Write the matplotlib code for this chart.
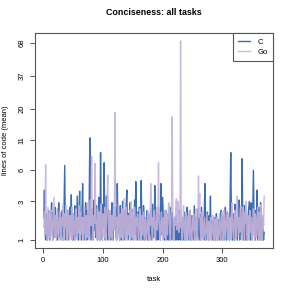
# -*- coding: utf-8 -*-
"""
Gráfica de concisión: líneas de código (media) por tarea, C frente a Go,
con eje y en escala log(1 + y) al estilo de R base.
"""

import numpy as np
import matplotlib
matplotlib.use("Agg")  # sin ventana
import matplotlib.pyplot as plt

# --- Datos -----------------------------------------------------------
tareas = np.arange(1, 371)

loc_c = [
    2.0, 3.9, 1.5, 1.0, 2.2, 1.3, 1.0, 1.8, 2.4, 1.2, 1.0, 1.6, 2.1, 2.9, 1.4, 1.0, 2.3, 1.5, 1.1, 2.6,
    1.2, 1.9, 1.0, 2.5, 1.4, 2.9, 1.1, 1.7, 2.2, 1.0, 1.5, 2.4, 1.2, 1.0, 2.8, 6.6, 1.6, 1.0, 2.0, 1.3,
    2.4, 1.1, 1.0, 1.9, 2.6, 1.3, 3.5, 1.2, 1.0, 2.2, 1.6, 1.0, 2.7, 1.4, 1.1, 2.0, 3.4, 1.5, 1.0, 2.3,
    3.8, 1.4, 2.1, 1.0, 2.6, 4.5, 1.7, 1.0, 2.3, 1.2, 2.9, 1.5, 1.0, 2.4, 1.8, 1.1, 3.0, 11.5, 2.2, 1.0,
    1.6, 2.5, 1.2, 1.0, 3.1, 1.4, 2.0, 1.1, 2.7, 1.3, 1.0, 2.2, 3.3, 1.5, 1.0, 8.6, 2.4, 1.2, 1.0, 2.8,
    1.5, 7.0, 2.0, 1.0, 1.7, 3.4, 1.3, 1.0, 2.5, 1.9, 1.1, 2.3, 1.0, 1.6, 2.9, 1.2, 1.0, 2.1, 1.4, 1.8,
    2.6, 1.1, 1.0, 4.5, 1.8, 2.2, 1.3, 1.0, 2.7, 1.5, 1.0, 2.0, 3.0, 1.2, 1.0, 2.4, 1.7, 1.1, 2.8, 3.9,
    1.4, 1.0, 2.2, 1.6, 2.9, 1.1, 1.0, 2.5, 1.3, 2.0, 1.0, 1.8, 3.1, 1.2, 4.7, 1.5, 1.0, 2.3, 1.9, 1.1,
    2.6, 1.0, 1.4, 4.8, 2.1, 1.2, 1.0, 2.7, 1.6, 1.0, 2.0, 1.3, 1.1, 2.4, 1.0, 1.7, 2.2, 1.0, 1.5, 2.5,
    1.2, 1.0, 2.8, 1.6, 1.1, 2.0, 4.3, 1.4, 1.0, 2.3, 1.7, 1.0, 2.6, 1.3, 2.1, 1.0, 4.5, 1.9, 1.2, 3.3,
    2.0, 1.1, 1.0, 1.8, 2.4, 1.2, 1.0, 1.6, 2.2, 1.0, 1.4, 2.6, 1.1, 1.0, 1.9, 2.3, 1.2, 1.0, 1.5, 2.0,
    1.0, 1.3, 2.1, 1.0, 1.7, 1.2, 1.0, 2.4, 1.4, 1.0, 1.8, 1.1, 1.0, 2.0, 1.5, 1.0, 2.3, 1.2, 1.0, 1.9,
    2.6, 2.2, 1.1, 1.0, 1.7, 2.4, 1.3, 1.0, 2.1, 1.5, 1.0, 1.8, 2.7, 1.2, 1.0, 2.0, 1.4, 1.1, 2.5, 1.6,
    1.0, 2.2, 1.3, 1.0, 2.6, 1.7, 1.1, 2.0, 1.0, 2.9, 4.5, 1.4, 1.0, 1.9, 2.3, 1.2, 1.0, 2.1, 1.5, 3.4,
    1.3, 1.0, 1.8, 1.1, 1.0, 2.0, 1.4, 1.0, 1.6, 2.2, 1.2, 1.0, 1.5, 1.9, 1.1, 1.0, 1.7, 2.4, 1.3, 1.0,
    2.1, 1.2, 1.0, 1.8, 2.6, 1.4, 1.0, 2.3, 1.6, 1.1, 2.0, 1.0, 3.2, 8.6, 2.5, 1.3, 1.0, 2.2, 1.7, 1.0,
    2.8, 1.5, 1.1, 2.0, 1.0, 2.6, 1.3, 3.1, 1.0, 1.9, 2.4, 1.2, 7.6, 2.2, 1.0, 1.6, 2.7, 1.1, 1.0, 2.3,
    1.4, 1.0, 2.0, 2.5, 3.0, 1.2, 1.0, 2.9, 1.6, 1.0, 2.8, 6.0, 1.8, 1.1, 1.0, 2.4, 1.3, 3.9, 1.0, 1.7,
    2.6, 1.1, 1.0, 2.9, 1.5, 1.0, 2.0, 1.2, 1.0, 1.3,
]

loc_go = [
    1.5, 2.3, 1.2, 6.7, 2.0, 1.3, 1.0, 2.6, 1.8, 1.1, 2.2, 1.0, 1.6, 2.4, 1.3, 1.0, 2.0, 3.3, 1.5, 1.1,
    2.1, 1.0, 1.7, 2.5, 1.2, 1.0, 1.9, 2.3, 1.4, 1.0, 2.0, 1.6, 2.8, 1.2, 1.0, 2.2, 1.5, 2.7, 1.1, 1.0,
    1.8, 2.4, 1.3, 1.0, 2.1, 1.6, 1.1, 2.6, 1.0, 1.5, 2.2, 1.2, 1.0, 1.9, 2.5, 1.4, 1.0, 2.0, 1.3, 2.7,
    1.1, 1.0, 2.3, 1.7, 1.2, 2.0, 1.0, 1.5, 2.6, 1.3, 1.0, 2.1, 1.8, 1.1, 2.9, 1.4, 1.0, 2.2, 3.1, 1.6,
    8.0, 2.4, 1.3, 1.0, 2.1, 1.7, 6.9, 2.0, 1.2, 1.0, 2.5, 1.6, 1.1, 2.3, 1.0, 1.9, 2.8, 1.4, 1.0, 2.2,
    1.5, 1.1, 2.6, 1.3, 1.0, 2.0, 2.7, 5.4, 1.8, 1.2, 1.0, 2.4, 1.6, 1.1, 2.1, 1.0, 1.7, 2.9, 1.4, 18.8,
    2.5, 1.2, 1.0, 2.0, 1.6, 2.8, 1.3, 1.0, 2.2, 1.8, 1.1, 2.5, 1.4, 1.0, 3.2, 2.0, 1.2, 1.0, 2.6, 1.5,
    1.0, 2.1, 1.7, 1.2, 2.4, 1.0, 3.0, 1.5, 1.1, 2.3, 1.8, 1.0, 2.6, 1.3, 1.0, 2.0, 1.6, 2.2, 1.1, 1.0,
    1.9, 2.5, 1.4, 1.0, 2.1, 1.2, 1.7, 2.3, 1.0, 1.5, 2.0, 1.1, 1.0, 1.8, 2.4, 1.3, 1.0, 2.2, 1.6, 4.5,
    2.7, 1.3, 1.0, 2.0, 1.5, 2.4, 1.1, 1.0, 1.8, 2.6, 1.4, 2.2, 7.0, 2.0, 1.2, 1.0, 1.7, 2.3, 1.3, 1.0,
    2.0, 1.5, 1.1, 2.4, 1.0, 1.6, 2.2, 1.2, 1.9, 2.9, 2.6, 1.3, 1.0, 2.1, 2.8, 17.2, 2.4, 1.2, 1.0, 2.0,
    1.6, 2.5, 3.2, 1.4, 2.8, 3.0, 1.3, 2.2, 1.5, 70.0, 2.6, 1.2, 1.0, 2.0, 2.7, 1.4, 1.0, 1.8, 2.3, 1.1,
    1.0, 1.7, 2.1, 1.3, 1.0, 2.4, 1.6, 1.1, 1.0, 2.0, 1.4, 2.2, 1.2, 1.0, 1.8, 2.5, 1.3, 1.0, 2.1, 5.3,
    2.0, 3.6, 1.4, 1.0, 1.9, 2.3, 1.2, 1.0, 1.7, 2.0, 1.1, 1.0, 1.5, 2.2, 1.3, 1.0, 1.8, 1.2, 1.0, 2.0,
    1.4, 1.0, 1.7, 2.1, 1.2, 1.0, 1.6, 1.9, 1.1, 1.0, 2.0, 1.3, 1.0, 1.5, 2.2, 1.2, 1.0, 1.8, 2.3, 1.4,
    1.0, 2.1, 2.4, 1.3, 1.0, 1.9, 2.3, 1.5, 1.1, 2.2, 1.0, 1.7, 2.0, 1.2, 1.0, 2.9, 2.1, 1.3, 1.0, 1.8,
    2.4, 1.4, 1.0, 2.2, 3.4, 1.6, 1.1, 2.0, 1.3, 2.5, 2.7, 1.2, 1.0, 1.9, 2.6, 1.5, 1.0, 2.3, 1.7, 3.0,
    1.2, 1.0, 2.1, 1.6, 1.0, 2.4, 1.3, 2.0, 1.1, 1.0, 1.8, 2.5, 1.4, 1.0, 2.2, 1.7, 1.1, 2.0, 2.6, 1.3,
    1.0, 2.3, 1.5, 1.0, 2.8, 1.2, 1.0, 2.1, 1.6, 3.4,
]

ticks_x = [0, 100, 200, 300]
ticks_y = [1, 3, 6, 11, 20, 37, 68]

COLOR_C = "#3b6db5"
COLOR_GO = "#c5b2da"
GRIS = "#555555"


def _rango_r(vmin, vmax, frac=0.04):
    """Extiende el rango un 4 % por lado, como hace R por defecto."""
    d = (vmax - vmin) * frac
    return vmin - d, vmax + d


def construir_figura():
    plt.rcParams["font.family"] = ["Liberation Sans", "DejaVu Sans"]

    fig = plt.figure(figsize=(2.91, 2.91), dpi=100)
    ax = fig.add_axes([35 / 291, 43 / 291, 238 / 291, 215 / 291])

    ax.plot(tareas, loc_c, color=COLOR_C, linewidth=1.0, label="C")
    ax.plot(tareas, loc_go, color=COLOR_GO, linewidth=1.0, alpha=0.9, label="Go")

    # eje y en escala log(1 + y)
    ax.set_yscale("function", functions=(np.log1p, np.expm1))
    t0, t1 = _rango_r(np.log1p(min(min(loc_c), min(loc_go))),
                      np.log1p(max(max(loc_c), max(loc_go))))
    ax.set_ylim(np.expm1(t0), np.expm1(t1))
    ax.set_xlim(*_rango_r(tareas[0], tareas[-1]))

    ax.set_xticks(ticks_x)
    ax.set_xticklabels([str(t) for t in ticks_x])
    ax.set_yticks(ticks_y)
    ax.set_yticklabels([str(t) for t in ticks_y], rotation=90, va="center")
    ax.minorticks_off()

    for lado in ax.spines.values():
        lado.set_color(GRIS)
        lado.set_linewidth(0.8)
    ax.tick_params(direction="out", length=3.6, width=0.7, color=GRIS,
                   labelsize=5.5, pad=3.2)

    ax.set_xlabel("task", fontsize=5.5, labelpad=8)
    ax.set_ylabel("lines of code (mean)", fontsize=5.5, labelpad=7)
    ax.set_title("Conciseness: all tasks", fontsize=6.4, fontweight="bold", pad=13)

    ley = ax.legend(loc="upper right", fontsize=5.5, frameon=True, fancybox=False,
                    borderaxespad=0, handlelength=1.5, handletextpad=1.0,
                    borderpad=0.7, labelspacing=0.35, framealpha=1)
    ley.get_frame().set_edgecolor(GRIS)
    ley.get_frame().set_linewidth(0.8)
    return fig


if __name__ == "__main__":
    fig = construir_figura()
    fig.savefig("out.png", dpi=100)
    plt.close(fig)
